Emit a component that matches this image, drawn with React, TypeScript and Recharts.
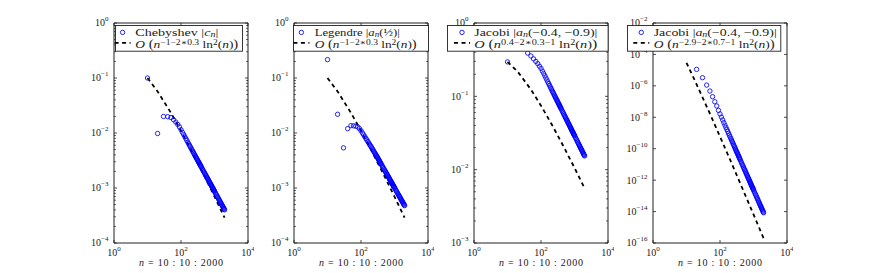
import React from "react";
import { ComposedChart, Scatter, Line, XAxis, YAxis, ReferenceArea, Legend } from "recharts";

// n = 10:10:2000 (thinned where the circles already merge into a band)
const nValues = [
  10, 20, 30, 40, 50, 60, 70, 80, 90, 100, 110, 120, 130, 140, 150, 160, 170, 180, 190, 200,
  210, 220, 230, 240, 250, 260, 270, 280, 290, 300, 310, 320, 330, 340, 350, 360, 370, 380, 390, 400,
  420, 440, 460, 480, 500, 520, 540, 560, 580, 600, 620, 640, 660, 680, 700,
  720, 740, 760, 780, 800, 820, 840, 860, 880, 900, 920, 940, 960, 980, 1000,
  1050, 1100, 1150, 1200, 1250, 1300, 1350, 1400, 1450, 1500,
  1550, 1600, 1650, 1700, 1750, 1800, 1850, 1900, 1950, 2000,
];

const chebyshevCoeffs = [
  0.1, 0.0098, 0.02, 0.0198, 0.0191, 0.0174, 0.0158, 0.0143, 0.0129, 0.0115,
  0.0103, 9.38e-3, 8.55e-3, 7.89e-3, 7.29e-3, 6.79e-3, 6.34e-3, 5.94e-3, 5.6e-3, 5.28e-3,
  5.0e-3, 4.75e-3, 4.52e-3, 4.31e-3, 4.12e-3, 3.94e-3, 3.77e-3, 3.62e-3, 3.48e-3, 3.36e-3,
  3.23e-3, 3.12e-3, 3.02e-3, 2.92e-3, 2.82e-3, 2.74e-3, 2.65e-3, 2.57e-3, 2.5e-3, 2.43e-3,
  2.3e-3, 2.18e-3, 2.08e-3, 1.98e-3, 1.89e-3, 1.81e-3, 1.74e-3, 1.67e-3, 1.6e-3, 1.54e-3,
  1.49e-3, 1.44e-3, 1.39e-3, 1.34e-3, 1.3e-3, 1.26e-3, 1.22e-3, 1.18e-3, 1.15e-3, 1.12e-3,
  1.09e-3, 1.06e-3, 1.03e-3, 1.005e-3, 9.8e-4, 9.56e-4, 9.34e-4, 9.12e-4, 8.91e-4, 8.71e-4,
  8.25e-4, 7.83e-4, 7.45e-4, 7.1e-4, 6.78e-4, 6.49e-4, 6.22e-4, 5.97e-4, 5.74e-4, 5.53e-4,
  5.33e-4, 5.15e-4, 4.97e-4, 4.81e-4, 4.65e-4, 4.51e-4, 4.37e-4, 4.24e-4, 4.12e-4, 4.01e-4,
];

const legendreCoeffs = [
  0.216, 0.0219, 5.37e-3, 0.012, 0.0136, 0.0135, 0.0133, 0.0129, 0.012, 0.011,
  0.01005, 9.25e-3, 8.55e-3, 7.96e-3, 7.45e-3, 7.0e-3, 6.61e-3, 6.24e-3, 5.92e-3, 5.62e-3,
  5.36e-3, 5.12e-3, 4.89e-3, 4.66e-3, 4.48e-3, 4.3e-3, 4.14e-3, 3.98e-3, 3.85e-3, 3.72e-3,
  3.59e-3, 3.47e-3, 3.35e-3, 3.24e-3, 3.15e-3, 3.05e-3, 2.96e-3, 2.88e-3, 2.8e-3, 2.72e-3,
  2.58e-3, 2.46e-3, 2.34e-3, 2.24e-3, 2.14e-3, 2.05e-3, 1.97e-3, 1.89e-3, 1.82e-3, 1.76e-3,
  1.7e-3, 1.64e-3, 1.59e-3, 1.54e-3, 1.49e-3, 1.44e-3, 1.4e-3, 1.36e-3, 1.32e-3, 1.29e-3,
  1.25e-3, 1.22e-3, 1.19e-3, 1.16e-3, 1.13e-3, 1.11e-3, 1.08e-3, 1.06e-3, 1.03e-3, 1.01e-3,
  9.6e-4, 9.13e-4, 8.7e-4, 8.31e-4, 7.95e-4, 7.63e-4, 7.32e-4, 7.04e-4, 6.78e-4, 6.53e-4,
  6.31e-4, 6.09e-4, 5.89e-4, 5.71e-4, 5.53e-4, 5.36e-4, 5.21e-4, 5.06e-4, 4.92e-4, 4.79e-4,
];

const jacobiCoeffsA = [
  0.295, 0.5, 0.457, 0.389, 0.355, 0.324, 0.299, 0.279, 0.257, 0.24,
  0.221, 0.205, 0.191, 0.178, 0.167, 0.157, 0.149, 0.141, 0.134, 0.128,
  0.122, 0.117, 0.1125, 0.108, 0.1042, 0.1, 0.097, 0.094, 0.0909, 0.0881,
  0.0855, 0.083, 0.0807, 0.0785, 0.0764, 0.0745, 0.0726, 0.0708, 0.0692, 0.0676,
  0.0647, 0.0619, 0.0594, 0.0572, 0.0551, 0.0531, 0.0513, 0.0496, 0.048, 0.0466,
  0.0452, 0.0439, 0.0427, 0.0415, 0.0404, 0.0394, 0.0384, 0.0375, 0.0366, 0.0357,
  0.0349, 0.0342, 0.0334, 0.0327, 0.0321, 0.0314, 0.0308, 0.0302, 0.0297, 0.0291,
  0.0278, 0.0267, 0.0256, 0.0246, 0.0237, 0.0229, 0.0221, 0.0213, 0.0207, 0.02,
  0.0194, 0.0189, 0.0184, 0.0179, 0.0174, 0.0169, 0.0165, 0.0161, 0.0157, 0.0154,
];

const jacobiCoeffsB = [
  5.0e-4, 1.12e-5, 3.31e-6, 1.12e-6, 4.68e-7, 2.04e-7, 9.77e-8, 5.25e-8, 2.75e-8, 1.62e-8,
  1.03e-8, 6.76e-9, 4.57e-9, 3.2e-9, 2.29e-9, 1.68e-9, 1.26e-9, 9.51e-10, 7.28e-10, 5.7e-10,
  4.5e-10, 3.61e-10, 2.9e-10, 2.37e-10, 1.94e-10, 1.61e-10, 1.34e-10, 1.12e-10, 9.48e-11, 8.05e-11,
  6.86e-11, 5.9e-11, 5.08e-11, 4.42e-11, 3.82e-11, 3.35e-11, 2.92e-11, 2.56e-11, 2.26e-11, 2.0e-11,
  1.58e-11, 1.26e-11, 1.02e-11, 8.31e-12, 6.82e-12, 5.65e-12, 4.7e-12, 3.95e-12, 3.33e-12, 2.83e-12,
  2.41e-12, 2.07e-12, 1.79e-12, 1.55e-12, 1.34e-12, 1.17e-12, 1.03e-12, 9.03e-13, 7.96e-13, 7.05e-13,
  6.26e-13, 5.57e-13, 4.97e-13, 4.45e-13, 3.99e-13, 3.59e-13, 3.24e-13, 2.92e-13, 2.65e-13, 2.4e-13,
  1.9e-13, 1.51e-13, 1.22e-13, 9.94e-14, 8.17e-14, 6.76e-14, 5.63e-14, 4.72e-14, 3.99e-14, 3.38e-14,
  2.89e-14, 2.48e-14, 2.14e-14, 1.85e-14, 1.61e-14, 1.4e-14, 1.23e-14, 1.08e-14, 9.53e-15, 8.44e-15,
];

// reference rate O(...) curves
const rateN = [10, 20, 50, 100, 200, 500, 1000, 2000];
const rateChebyshev = [0.1, 0.0571, 0.0233, 0.011, 4.95e-3, 1.65e-3, 6.97e-4, 2.88e-4];
const rateLegendre = [0.1, 0.0571, 0.0233, 0.011, 4.95e-3, 1.65e-3, 6.97e-4, 2.88e-4];
const rateJacobiA = [0.295, 0.218, 0.124, 0.0746, 0.043, 0.0197, 0.0106, 0.00558];
const rateJacobiB = [2.95e-5, 1.26e-6, 1.7e-8, 5.9e-10, 2.0e-11, 2.1e-13, 6.6e-15, 2.0e-16];

const xTicks = [1, 100, 10000];

const SERIF = '"Liberation Serif", "DejaVu Serif", serif';
const INK = "#202020";
const BLUE = "#0000ff";
const PW = 134;
const PH = 220;
const AXIS_W = 40;

const expText = (e: number) => String(e).replace("-", "\u2212");

const decadeTicks = (lo: number, hi: number, step: number, minor: boolean) => {
  const out: number[] = [];
  for (let e = lo; e <= hi; e += step) {
    out.push(Math.pow(10, e));
    if (minor && e < hi) for (let m = 2; m < 10; m++) out.push(m * Math.pow(10, e));
  }
  return out;
};

const YTick = (p: any) => {
  const { x, y, payload } = p;
  const lg = Math.log10(payload.value);
  const e = Math.round(lg);
  const major = Math.abs(lg - e) < 1e-6;
  const len = major ? 3 : 1.8;
  return (
    <g>
      <line x1={x} x2={x + len} y1={y} y2={y} stroke={INK} strokeWidth={0.8} />
      <line x1={x + PW - len} x2={x + PW} y1={y} y2={y} stroke={INK} strokeWidth={0.8} />
      {major && (
        <text x={x - 5.5} y={y + 3.4} textAnchor="end" fontFamily={SERIF} fontSize={10} fill={INK}>
          10<tspan fontSize={7} dy={-5}>{expText(e)}</tspan>
        </text>
      )}
    </g>
  );
};

const XTick = (p: any) => {
  const { x, y, payload } = p;
  const e = Math.round(Math.log10(payload.value));
  return (
    <g>
      <line x1={x} x2={x} y1={y} y2={y - 3} stroke={INK} strokeWidth={0.8} />
      <line x1={x} x2={x} y1={y - PH} y2={y - PH + 3} stroke={INK} strokeWidth={0.8} />
      <text x={x} y={y + 13} textAnchor="middle" fontFamily={SERIF} fontSize={10} fill={INK}>
        10<tspan fontSize={7} dy={-5}>{expText(e)}</tspan>
      </text>
    </g>
  );
};

const XTitle = (p: any) => {
  const vb = p.viewBox || {};
  return (
    <text
      x={vb.x + vb.width / 2 - 42}
      y={vb.y + 23}
      textLength={84}
      lengthAdjust="spacing"
      fontFamily={SERIF}
      fontSize={10}
      fill={INK}
    >
      <tspan fontStyle="italic">n</tspan>
      {" = 10 : 10 : 2000"}
    </text>
  );
};

const coefLabel = (name: string, arg: string | null, sym: string) => (
  <>
    {name + " |"}
    <tspan fontStyle="italic">{sym}</tspan>
    <tspan fontStyle="italic" fontSize={7.5} dy={1.2}>n</tspan>
    <tspan dy={-1.2}>{(arg ? "(" + arg + ")" : "") + "|"}</tspan>
  </>
);

const rateLabel = (exp: string) => (
  <>
    <tspan fontStyle="italic">O</tspan>
    <tspan fontSize={11.5} dy={0.4}>{" ("}</tspan>
    <tspan dy={-0.4} fontStyle="italic">n</tspan>
    <tspan fontSize={7.5} dy={-3}>{exp}</tspan>
    <tspan dy={3}>{" ln"}</tspan>
    <tspan fontSize={7.5} dy={-3}>2</tspan>
    <tspan dy={3}>(</tspan>
    <tspan fontStyle="italic">n</tspan>
    <tspan>)</tspan>
    <tspan fontSize={11.5} dy={0.4}>)</tspan>
  </>
);

const panels = [
  {
    left: 114, coeffs: chebyshevCoeffs, rate: rateChebyshev, yLo: -4, yHi: 0, yStep: 1, minor: true,
    legend: { left: 114.7, width: 127, marker: 7.6, text: 20.3, w1: 83, w2: 103 },
    label: coefLabel("Chebyshev", null, "c"), rateText: rateLabel("\u22121\u22122\u22170.3"),
  },
  {
    left: 294, coeffs: legendreCoeffs, rate: rateLegendre, yLo: -4, yHi: 0, yStep: 1, minor: true,
    legend: { left: 293.3, width: 135, marker: 8.4, text: 21.7, w1: 85, w2: 102 },
    label: coefLabel("Legendre", "\u00bd", "a"), rateText: rateLabel("\u22121\u22122\u22170.3"),
  },
  {
    left: 473.5, coeffs: jacobiCoeffsA, rate: rateJacobiA, yLo: -3, yHi: 0, yStep: 1, minor: true,
    legend: { left: 446.7, width: 160.6, marker: 15, text: 27.3, w1: 123, w2: 123 },
    label: coefLabel("Jacobi", "\u22120.4, \u22120.9", "a"), rateText: rateLabel("0.4\u22122\u22170.3\u22121"),
  },
  {
    left: 652.5, coeffs: jacobiCoeffsB, rate: rateJacobiB, yLo: -16, yHi: -2, yStep: 2, minor: false,
    legend: { left: 626.7, width: 153.3, marker: 14.3, text: 26.7, w1: 123, w2: 121 },
    label: coefLabel("Jacobi", "\u22120.4, \u22120.9", "a"), rateText: rateLabel("\u22122.9\u22122\u22170.7\u22121"),
  },
];

const OpenCircle = (p: any) => (
  <circle cx={p.cx} cy={p.cy} r={2.2} fill="none" stroke={BLUE} strokeWidth={0.85} />
);

const LegendBox = ({ cfg, label, rateText }: any) => (
  <svg width={cfg.width + 2} height={28} style={{ display: "block", overflow: "visible" }}>
    <rect x={0.5} y={0.5} width={cfg.width} height={25.7} fill="#fff" stroke={INK} strokeWidth={0.9} />
    <circle cx={cfg.marker} cy={7.4} r={2.2} fill="none" stroke={BLUE} strokeWidth={0.85} />
    <line x1={cfg.marker - 8} x2={cfg.marker + 8} y1={17.8} y2={17.8} stroke="#000" strokeWidth={1.8} strokeDasharray="4 3.5" />
    <text x={cfg.text} y={10.5} textLength={cfg.w1} lengthAdjust="spacingAndGlyphs" fontFamily={SERIF} fontSize={10.5} fill={INK}>
      {label}
    </text>
    <text x={cfg.text} y={22.8} textLength={cfg.w2} lengthAdjust="spacingAndGlyphs" fontFamily={SERIF} fontSize={10.5} fill={INK}>
      {rateText}
    </text>
  </svg>
);

const Panel = ({ cfg }: any) => {
  const points = nValues.map((n, i) => ({ n, v: cfg.coeffs[i] }));
  const rate = rateN.map((n, i) => ({ n, v: cfg.rate[i] }));
  const yMin = Math.pow(10, cfg.yLo);
  const yMax = Math.pow(10, cfg.yHi);
  const chartLeft = cfg.left - AXIS_W;
  return (
    <div style={{ position: "absolute", left: chartLeft, top: 0 }}>
      <ComposedChart
        width={AXIS_W + PW + 6}
        height={273}
        margin={{ top: 23, right: 6, bottom: 0, left: 0 }}
        style={{ overflow: "visible" }}
      >
        <XAxis
          dataKey="n"
          type="number"
          scale="log"
          domain={[1, 10000]}
          ticks={xTicks}
          interval={0}
          allowDataOverflow
          axisLine={false}
          tickLine={false}
          tickSize={0}
          tickMargin={0}
          height={30}
          tick={(p: any) => <XTick {...p} />}
          label={(p: any) => <XTitle {...p} />}
        />
        <YAxis
          type="number"
          scale="log"
          domain={[yMin, yMax]}
          ticks={decadeTicks(cfg.yLo, cfg.yHi, cfg.yStep, cfg.minor)}
          interval={0}
          allowDataOverflow
          axisLine={false}
          tickLine={false}
          tickSize={0}
          tickMargin={0}
          width={AXIS_W}
          tick={(p: any) => <YTick {...p} />}
        />
        <ReferenceArea x1={1} x2={10000} y1={yMin} y2={yMax} fill="none" stroke={INK} strokeWidth={1} />
        <Scatter data={points} dataKey="v" shape={OpenCircle} isAnimationActive={false} />
        <Line
          data={rate}
          dataKey="v"
          type="linear"
          stroke="#000"
          strokeWidth={1.8}
          strokeDasharray="4 3.5"
          dot={false}
          activeDot={false}
          isAnimationActive={false}
        />
        <Legend
          layout="vertical"
          align="center"
          verticalAlign="middle"
          wrapperStyle={{ left: cfg.legend.left - chartLeft, top: 25, width: cfg.legend.width + 2, height: 28 }}
          content={() => <LegendBox cfg={cfg.legend} label={cfg.label} rateText={cfg.rateText} />}
        />
      </ComposedChart>
    </div>
  );
};

export default function App() {
  return (
    <div style={{ position: "absolute", left: 0, top: 0, width: 872, height: 273, background: "#fff" }}>
      {panels.map((cfg, i) => (
        <Panel key={i} cfg={cfg} />
      ))}
    </div>
  );
}
